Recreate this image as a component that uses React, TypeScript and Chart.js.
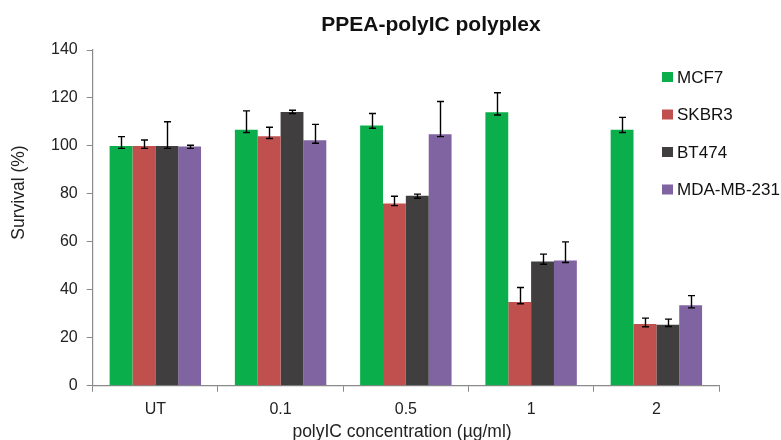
import React, { useEffect, useRef } from "react";
import { Chart, registerables } from "chart.js";

Chart.register(...registerables);

const categories = ["UT", "0.1", "0.5", "1", "2"];
const seriesNames = ["MCF7", "SKBR3", "BT474", "MDA-MB-231"];
const seriesColors = ["#0AAF4B", "#C0504D", "#413E3F", "#8064A2"];

const mcf7 = [100, 106.7, 108.5, 114, 106.7];
const skbr3 = [100, 104, 76, 34.9, 25.8];
const bt474 = [100, 114.2, 79.2, 51.8, 25.5];
const mda = [99.8, 102.4, 104.9, 52.2, 33.6];

const mcf7Up = [3.9, 7.9, 5.0, 8.2, 5.2];
const skbr3Up = [2.5, 3.8, 3.0, 6.1, 2.4];
const bt474Up = [10.1, 0.7, 0.7, 3.1, 2.3];
const mdaUp = [0.5, 6.6, 13.6, 7.8, 4.0];

const mcf7Down = [1.0, 1.1, 1.1, 1.1, 1.1];
const skbr3Down = [1.0, 0.9, 0.9, 0.7, 1.2];
const bt474Down = [1.0, 0.7, 1.0, 1.1, 0.8];
const mdaDown = [0.8, 1.3, 1.0, 0.8, 1.1];

const yTicks = [0, 20, 40, 60, 80, 100, 120, 140];

const chartTitle = "PPEA-polyIC polyplex";
const xTitle = "polyIC concentration (µg/ml)";
const yTitle = "Survival (%)";

const values = [mcf7, skbr3, bt474, mda];
const ups = [mcf7Up, skbr3Up, bt474Up, mdaUp];
const downs = [mcf7Down, skbr3Down, bt474Down, mdaDown];

const FONT = "'Liberation Sans', Arial, sans-serif";

const errorBarPlugin = {
  id: "errorBars",
  afterDatasetsDraw(chart: any) {
    const ctx = chart.ctx;
    const yScale = chart.scales.y;
    ctx.save();
    ctx.strokeStyle = "#000";
    ctx.lineWidth = 1.4;
    chart.data.datasets.forEach((ds: any, di: number) => {
      const meta = chart.getDatasetMeta(di);
      meta.data.forEach((bar: any, i: number) => {
        const v = ds.data[i];
        const top = yScale.getPixelForValue(v + ds.errUp[i]);
        const bot = yScale.getPixelForValue(v - ds.errDown[i]);
        const x = Math.round(bar.x) + 0.5;
        const cap = 3.5;
        ctx.beginPath();
        ctx.moveTo(x, top);
        ctx.lineTo(x, bot);
        ctx.moveTo(x - cap, top);
        ctx.lineTo(x + cap, top);
        ctx.moveTo(x - cap, bot);
        ctx.lineTo(x + cap, bot);
        ctx.stroke();
      });
    });
    ctx.restore();
  },
};

const titleLegendPlugin = {
  id: "titleLegend",
  afterDraw(chart: any) {
    const ctx = chart.ctx;
    ctx.save();
    ctx.fillStyle = "#111";
    ctx.font = `bold 21px ${FONT}`;
    ctx.textAlign = "center";
    ctx.textBaseline = "middle";
    ctx.fillText(chartTitle, 431, 25);

    ctx.fillStyle = "#222";
    ctx.font = `17.5px ${FONT}`;
    ctx.fillText(xTitle, 402, 432);

    ctx.save();
    ctx.translate(19, 192.5);
    ctx.rotate(-Math.PI / 2);
    ctx.fillText(yTitle, 0, 0);
    ctx.restore();

    ctx.font = `17px ${FONT}`;
    ctx.textAlign = "left";
    chart.data.datasets.forEach((ds: any, i: number) => {
      const cy = 77 + i * 37.5;
      ctx.fillStyle = ds.backgroundColor;
      ctx.fillRect(662, cy - 5, 11, 10);
      ctx.fillStyle = "#111";
      ctx.fillText(ds.label, 677, cy + 1);
    });
    ctx.restore();
  },
};

export default function App() {
  const ref = useRef<HTMLCanvasElement>(null);

  useEffect(() => {
    if (!ref.current) return;
    const chart = new Chart(ref.current, {
      type: "bar",
      data: {
        labels: categories,
        datasets: seriesNames.map((name, i) => ({
          label: name,
          data: values[i],
          errUp: ups[i],
          errDown: downs[i],
          backgroundColor: seriesColors[i],
          borderWidth: 0,
          categoryPercentage: 0.73,
          barPercentage: 1.0,
        })) as any,
      },
      options: {
        animation: false,
        responsive: true,
        maintainAspectRatio: false,
        layout: { padding: { top: 50, right: 62, left: 42, bottom: 13 } },
        plugins: {
          legend: { display: false },
          title: { display: false },
          tooltip: { enabled: false },
        },
        scales: {
          x: {
            grid: {
              display: true,
              drawOnChartArea: false,
              drawTicks: true,
              tickLength: 6,
              color: "#8a8a8a",
              offset: true,
            },
            border: { display: true, color: "#8a8a8a", width: 1.2 },
            ticks: {
              color: "#222",
              font: { family: FONT, size: 16 },
              padding: 8,
            },
          },
          y: {
            min: 0,
            max: 140,
            afterBuildTicks(scale: any) {
              scale.ticks = yTicks.map((v) => ({ value: v }));
            },
            grid: {
              display: true,
              drawOnChartArea: false,
              drawTicks: true,
              tickLength: 6,
              color: "#8a8a8a",
            },
            border: { display: true, color: "#8a8a8a", width: 1.2 },
            ticks: {
              color: "#222",
              font: { family: FONT, size: 16 },
              padding: 9,
            },
          },
        },
      },
      plugins: [errorBarPlugin, titleLegendPlugin],
    });
    return () => chart.destroy();
  }, []);

  return (
    <div style={{ position: "absolute", left: 0, top: 0, width: 781, height: 440, background: "#fff" }}>
      <canvas ref={ref} />
    </div>
  );
}
